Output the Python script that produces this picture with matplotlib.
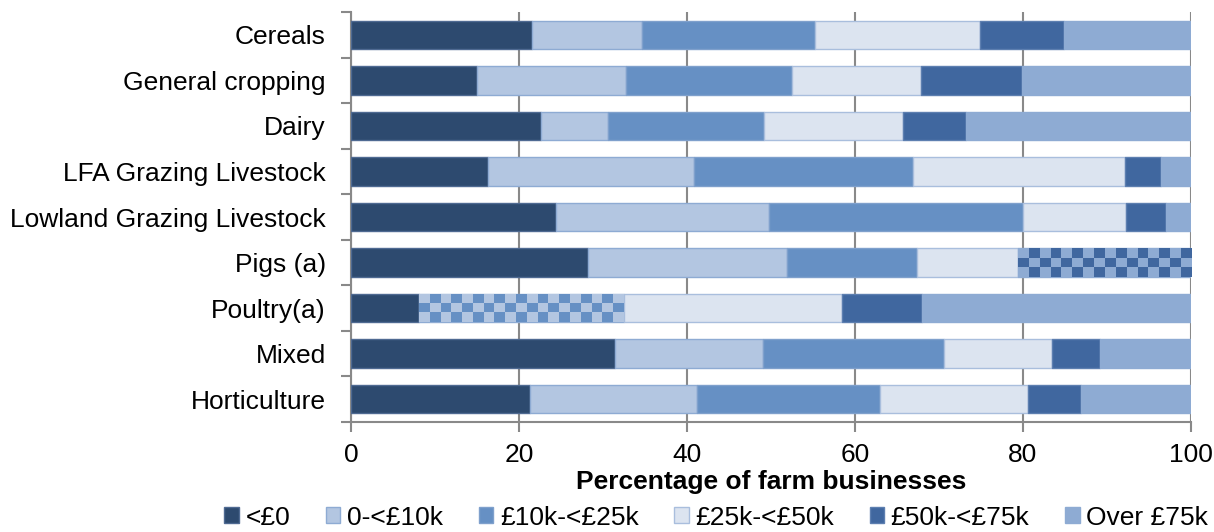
import numpy as np
import matplotlib
matplotlib.use("Agg")
import matplotlib.pyplot as plt
from matplotlib.colors import to_rgb

plt.rcParams['font.family'] = ['Liberation Sans', 'DejaVu Sans']
plt.rcParams['font.size'] = 19

# Data: share of farm businesses (%) by farm business income band
categories = ['Cereals', 'General cropping', 'Dairy', 'LFA Grazing Livestock',
              'Lowland Grazing Livestock', 'Pigs (a)', 'Poultry(a)', 'Mixed', 'Horticulture']
bands = ['<£0', '0-<£10k', '£10k-<£25k', '£25k-<£50k', '£50k-<£75k', 'Over £75k']
nan = np.nan
lt0 = [21.5, 15.0, 22.6, 16.3, 24.4, 28.2, 8.1, 31.4, 21.3]
k0_10 = [13.1, 17.7, 8.0, 24.5, 25.4, 23.7, nan, 17.6, 19.9]
k10_25 = [20.6, 19.8, 18.6, 26.1, 30.2, 15.5, nan, 21.6, 21.8]
k25_50 = [19.7, 15.4, 16.5, 25.2, 12.3, 12.0, 26.0, 12.9, 17.6]
k50_75 = [10.0, 12.0, 7.5, 4.3, 4.7, nan, 9.5, 5.7, 6.3]
over75 = [15.1, 20.1, 26.8, 3.6, 3.0, nan, 32.0, 10.8, 13.1]
# bands merged for disclosure reasons (drawn chequered)
combined = [nan, nan, nan, nan, nan, 20.6, 24.4, nan, nan]

series = [lt0, k0_10, k10_25, k25_50, k50_75, over75]
colors = ['#2D4A6F', '#B3C6E1', '#6690C4', '#DCE4F0', '#40679F', '#8EABD3']
edges = ['#4F6A92', '#8EABD3', '#7FA0CC', '#A9BEDD', '#5D7FB0', '#8EABD3']

fig = plt.figure(figsize=(12.14, 5.32), dpi=100)
ax = fig.add_axes([0.2891, 0.2068, 0.6919, 0.7706])

y = np.arange(len(categories))
h = 0.625
left = np.zeros(len(categories))


def checker(ax, x0, w, yc, c1, c2):
    patch = ax.barh(yc, w, left=x0, height=h, color=c2, edgecolor='#8EABD3',
                    linewidth=1, zorder=3)[0]
    ncol = max(int(round(w / 1.29)), 1)
    nrow = 3
    grid = (np.add.outer(np.arange(nrow), np.arange(ncol)) % 2).astype(bool)
    img = np.where(grid[..., None], np.array(to_rgb(c1)), np.array(to_rgb(c2)))
    im = ax.imshow(img, extent=(x0, x0 + w, yc + h / 2, yc - h / 2), aspect='auto',
                   interpolation='nearest', zorder=3.5)
    im.set_clip_path(patch)


for j, vals in enumerate(series):
    for i, v in enumerate(vals):
        if np.isnan(v):
            # first band of a merged run: draw the combined chequered block
            if j == 0 or not np.isnan(series[j - 1][i]):
                c1 = colors[j + 1]
                c2 = colors[j]
                if j == 4:
                    c1, c2 = colors[4], colors[5]
                checker(ax, left[i], combined[i], y[i], c1, c2)
                left[i] += combined[i]
            continue
        ax.barh(y[i], v, left=left[i], height=h, color=colors[j],
                edgecolor=edges[j], linewidth=1, zorder=3)
        left[i] += v

# legend handles
for j, b in enumerate(bands):
    ax.barh([nan], [nan], color=colors[j], edgecolor=edges[j], label=b)

ax.set_xlim(0, 100)
ax.set_ylim(len(categories) - 0.5, -0.5)
ax.set_yticks(y)
ax.set_yticklabels(categories)
ax.set_yticks(np.arange(-0.5, len(categories)), minor=True)
ax.tick_params(axis='y', which='major', length=0, pad=18)
ax.tick_params(axis='y', which='minor', length=7, color='#898989', width=1.5)
ax.set_xticks(np.arange(0, 101, 20))
ax.tick_params(axis='x', length=7, color='#898989', width=1.5, pad=8)
ax.xaxis.grid(True, color='#898989', linewidth=1.5, zorder=0)
ax.set_axisbelow(True)
for s in ['top', 'right']:
    ax.spines[s].set_visible(False)
for s in ['left', 'bottom']:
    ax.spines[s].set_color('#898989')
    ax.spines[s].set_linewidth(1.5)

ax.set_xlabel('Percentage of farm businesses', fontweight='bold', labelpad=2)

handles, labels = ax.get_legend_handles_labels()
fig.legend(handles, labels, loc='lower center', bbox_to_anchor=(0.59, -0.04),
           ncol=6, frameon=False, handlelength=0.55, handleheight=0.55,
           handletextpad=0.25, columnspacing=1.35, fontsize=19)

fig.savefig('out.png', dpi=100)
